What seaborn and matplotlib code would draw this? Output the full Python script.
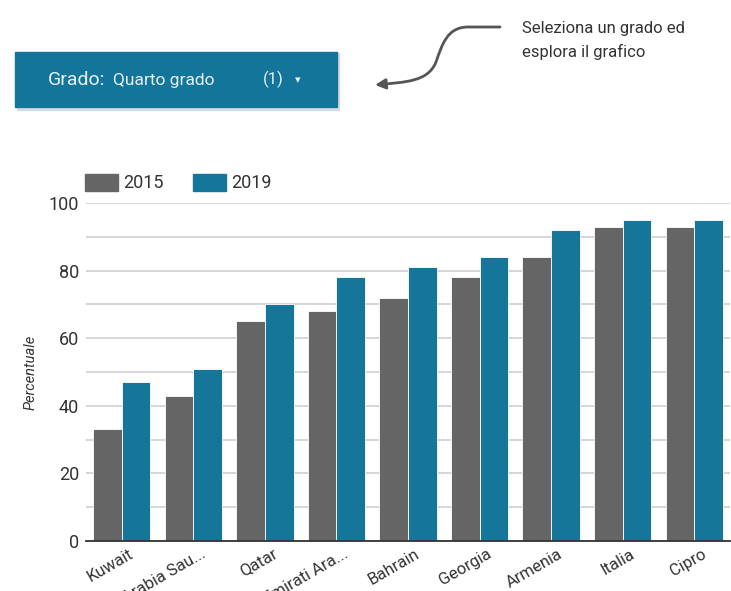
import matplotlib
matplotlib.use("Agg")
import matplotlib.pyplot as plt
from matplotlib.patches import Rectangle, FancyArrowPatch
from matplotlib.path import Path
from matplotlib.transforms import ScaledTranslation
import seaborn as sns
import pandas as pd

countries = ["Kuwait", "Arabia Sau...", "Qatar", "Emirati Ara...", "Bahrain",
             "Georgia", "Armenia", "Italia", "Cipro"]
values_2015 = [33, 43, 65, 68, 72, 78, 84, 93, 93]
values_2019 = [47, 51, 70, 78, 81, 84, 92, 95, 95]
years = ["2015", "2019"]
colors = ["#656565", "#15769a"]
y_ticks = [0, 20, 40, 60, 80, 100]

df = pd.DataFrame({
    "Paese": countries * 2,
    "Anno": [years[0]] * len(countries) + [years[1]] * len(countries),
    "Percentuale": values_2015 + values_2019,
})

sns.set_theme(style="white")
plt.rcParams["font.family"] = ["Roboto", "DejaVu Sans"]

W, H = 731, 591
fig = plt.figure(figsize=(W / 100, H / 100), dpi=100)

def fx(px):
    return px / W

def fy(py):
    return 1 - py / H

ax = fig.add_axes([fx(86), fy(541), fx(730) - fx(86), fy(203) - fy(541)])

sns.barplot(data=df, x="Paese", y="Percentuale", hue="Anno",
            palette=colors, saturation=1, width=0.8, ax=ax, legend=False,
            edgecolor="white", linewidth=0.6, zorder=3)

ax.set_ylim(0, 100)
ax.set_xlim(-0.5, len(countries) - 0.5)
ax.set_yticks(y_ticks)
ax.set_yticks(range(10, 100, 20), minor=True)
ax.yaxis.grid(True, which="both", color="#d0d0d0", linewidth=1.2, zorder=0)
ax.set_axisbelow(True)
for s in ["top", "right", "left"]:
    ax.spines[s].set_visible(False)
ax.spines["bottom"].set_color("#333333")
ax.spines["bottom"].set_linewidth(1.3)
ax.spines["bottom"].set_zorder(4)

ax.tick_params(axis="y", which="both", length=0, labelsize=13,
               labelcolor="#333333", pad=5)
ax.tick_params(axis="x", length=0, labelsize=12, labelcolor="#333333", pad=3)
ax.set_xticks(range(len(countries)))
ax.set_xticklabels(countries, rotation=30, ha="right", rotation_mode="anchor")
shift = ScaledTranslation(7 / 100, -1 / 100, fig.dpi_scale_trans)
for lbl in ax.get_xticklabels():
    lbl.set_transform(lbl.get_transform() + shift)
ax.set_xlabel("")
ax.set_ylabel("Percentuale", fontsize=10.5, fontstyle="italic",
              color="#333333", labelpad=8)

# legend
for i, (yr, c) in enumerate(zip(years, colors)):
    x0 = 85 + i * 108
    fig.patches.append(Rectangle((fx(x0), fy(191)), fx(33), fy(174) - fy(191),
                                 transform=fig.transFigure, color=c))
    fig.text(fx(x0 + 38), fy(183), yr, fontsize=13, color="#333333",
             va="center", ha="left")

# dropdown button with soft shadow
fig.patches.append(Rectangle((fx(17), fy(110)), fx(322), fy(53) - fy(110),
                             transform=fig.transFigure, color="#c9c9d6",
                             alpha=0.6, zorder=1))
fig.patches.append(Rectangle((fx(15), fy(107)), fx(322), fy(52) - fy(107),
                             transform=fig.transFigure, color="#137599",
                             zorder=2))
fig.text(fx(48), fy(80), "Grado:", fontsize=14, color="#e6f0f4",
         va="center", ha="left", zorder=3)
fig.text(fx(113), fy(81), "Quarto grado", fontsize=12.5, color="#e6f0f4",
         va="center", ha="left", zorder=3)
fig.text(fx(263), fy(79), "(1)", fontsize=12, color="#e6f0f4",
         va="center", ha="left", zorder=3)
fig.text(fx(298), fy(80), "▾", fontsize=8, color="#e6f0f4",
         va="center", ha="center", zorder=3, family=["DejaVu Sans"])

# hint text and curved arrow
fig.text(fx(522), fy(28), "Seleziona un grado ed", fontsize=12,
         color="#333333", va="center", ha="left")
fig.text(fx(522), fy(52), "esplora il grafico", fontsize=12,
         color="#333333", va="center", ha="left")

verts = [(500, 27), (468, 27),
         (447, 27), (442, 45), (436, 62),
         (428, 82), (405, 82), (375, 85)]
codes = [Path.MOVETO, Path.LINETO,
         Path.CURVE4, Path.CURVE4, Path.CURVE4,
         Path.CURVE4, Path.CURVE4, Path.CURVE4]
path = Path([(fx(x), fy(y)) for x, y in verts], codes)
arrow = FancyArrowPatch(path=path, arrowstyle="-|>,head_length=6,head_width=3",
                        color="#555555", linewidth=2.0,
                        transform=fig.transFigure)
fig.patches.append(arrow)

fig.savefig("out.png", dpi=100)
